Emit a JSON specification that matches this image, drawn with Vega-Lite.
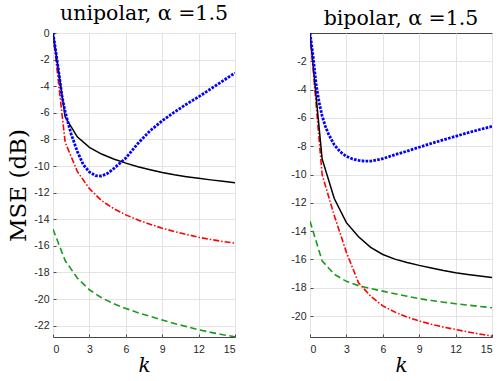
{
  "$schema": "https://vega.github.io/schema/vega-lite/v6.json",
  "autosize": {"type": "none"},
  "padding": {"left": 53, "top": 33, "right": 450, "bottom": 348},
  "background": "white",
  "config": {
    "view": {"stroke": "#444444", "strokeWidth": 1},
    "axis": {
      "grid": true, "gridColor": "#e3e3e3", "gridWidth": 1,
      "domain": false,
      "tickColor": "#262626", "tickSize": -3, "tickWidth": 0.8,
      "labelFont": "Liberation Sans", "labelFontSize": 10.5, "labelColor": "#262626",
      "titleFont": "DejaVu Serif", "titleColor": "black", "titleFontWeight": "normal"
    },
    "title": {"font": "DejaVu Serif", "fontSize": 20.5, "fontWeight": "normal", "color": "black", "offset": 4}
  },
  "datasets": {
    "d": [
      {"panel": "u", "series": "black", "k": 0, "v": 0},
      {"panel": "u", "series": "black", "k": 1, "v": -6.3},
      {"panel": "u", "series": "black", "k": 2, "v": -7.8},
      {"panel": "u", "series": "black", "k": 3, "v": -8.6},
      {"panel": "u", "series": "black", "k": 4, "v": -9.1},
      {"panel": "u", "series": "black", "k": 5, "v": -9.47},
      {"panel": "u", "series": "black", "k": 6, "v": -9.78},
      {"panel": "u", "series": "black", "k": 7, "v": -10.05},
      {"panel": "u", "series": "black", "k": 8, "v": -10.28},
      {"panel": "u", "series": "black", "k": 9, "v": -10.49},
      {"panel": "u", "series": "black", "k": 10, "v": -10.66},
      {"panel": "u", "series": "black", "k": 11, "v": -10.8},
      {"panel": "u", "series": "black", "k": 12, "v": -10.92},
      {"panel": "u", "series": "black", "k": 13, "v": -11.04},
      {"panel": "u", "series": "black", "k": 14, "v": -11.15},
      {"panel": "u", "series": "black", "k": 15, "v": -11.25},

      {"panel": "u", "series": "blue", "k": 0, "v": 0},
      {"panel": "u", "series": "blue", "k": 0.25, "v": -1.5},
      {"panel": "u", "series": "blue", "k": 0.5, "v": -3.1},
      {"panel": "u", "series": "blue", "k": 0.75, "v": -4.8},
      {"panel": "u", "series": "blue", "k": 1, "v": -5.9},
      {"panel": "u", "series": "blue", "k": 1.25, "v": -6.8},
      {"panel": "u", "series": "blue", "k": 1.5, "v": -7.6},
      {"panel": "u", "series": "blue", "k": 2, "v": -8.9},
      {"panel": "u", "series": "blue", "k": 2.5, "v": -9.9},
      {"panel": "u", "series": "blue", "k": 3, "v": -10.45},
      {"panel": "u", "series": "blue", "k": 3.5, "v": -10.72},
      {"panel": "u", "series": "blue", "k": 4, "v": -10.75},
      {"panel": "u", "series": "blue", "k": 4.5, "v": -10.55},
      {"panel": "u", "series": "blue", "k": 5, "v": -10.2},
      {"panel": "u", "series": "blue", "k": 5.5, "v": -9.8},
      {"panel": "u", "series": "blue", "k": 6, "v": -9.4},
      {"panel": "u", "series": "blue", "k": 7, "v": -8.3},
      {"panel": "u", "series": "blue", "k": 8, "v": -7.35},
      {"panel": "u", "series": "blue", "k": 9, "v": -6.6},
      {"panel": "u", "series": "blue", "k": 10, "v": -5.95},
      {"panel": "u", "series": "blue", "k": 11, "v": -5.35},
      {"panel": "u", "series": "blue", "k": 12, "v": -4.8},
      {"panel": "u", "series": "blue", "k": 13, "v": -4.2},
      {"panel": "u", "series": "blue", "k": 14, "v": -3.6},
      {"panel": "u", "series": "blue", "k": 15, "v": -3.0},

      {"panel": "u", "series": "red", "k": 0, "v": 0},
      {"panel": "u", "series": "red", "k": 1, "v": -8.2},
      {"panel": "u", "series": "red", "k": 2, "v": -10.4},
      {"panel": "u", "series": "red", "k": 3, "v": -11.7},
      {"panel": "u", "series": "red", "k": 4, "v": -12.6},
      {"panel": "u", "series": "red", "k": 5, "v": -13.2},
      {"panel": "u", "series": "red", "k": 6, "v": -13.67},
      {"panel": "u", "series": "red", "k": 7, "v": -14.05},
      {"panel": "u", "series": "red", "k": 8, "v": -14.38},
      {"panel": "u", "series": "red", "k": 9, "v": -14.67},
      {"panel": "u", "series": "red", "k": 10, "v": -14.92},
      {"panel": "u", "series": "red", "k": 11, "v": -15.14},
      {"panel": "u", "series": "red", "k": 12, "v": -15.35},
      {"panel": "u", "series": "red", "k": 13, "v": -15.52},
      {"panel": "u", "series": "red", "k": 14, "v": -15.67},
      {"panel": "u", "series": "red", "k": 15, "v": -15.8},

      {"panel": "u", "series": "green", "k": 0, "v": -14.75},
      {"panel": "u", "series": "green", "k": 1, "v": -17.1},
      {"panel": "u", "series": "green", "k": 2, "v": -18.42},
      {"panel": "u", "series": "green", "k": 3, "v": -19.3},
      {"panel": "u", "series": "green", "k": 4, "v": -19.9},
      {"panel": "u", "series": "green", "k": 5, "v": -20.35},
      {"panel": "u", "series": "green", "k": 6, "v": -20.7},
      {"panel": "u", "series": "green", "k": 7, "v": -21.02},
      {"panel": "u", "series": "green", "k": 8, "v": -21.3},
      {"panel": "u", "series": "green", "k": 9, "v": -21.57},
      {"panel": "u", "series": "green", "k": 10, "v": -21.83},
      {"panel": "u", "series": "green", "k": 11, "v": -22.07},
      {"panel": "u", "series": "green", "k": 12, "v": -22.3},
      {"panel": "u", "series": "green", "k": 13, "v": -22.5},
      {"panel": "u", "series": "green", "k": 14, "v": -22.68},
      {"panel": "u", "series": "green", "k": 15, "v": -22.83},

      {"panel": "b", "series": "black", "k": 0, "v": 0},
      {"panel": "b", "series": "black", "k": 1, "v": -8.9},
      {"panel": "b", "series": "black", "k": 2, "v": -11.7},
      {"panel": "b", "series": "black", "k": 3, "v": -13.4},
      {"panel": "b", "series": "black", "k": 4, "v": -14.4},
      {"panel": "b", "series": "black", "k": 5, "v": -15.15},
      {"panel": "b", "series": "black", "k": 6, "v": -15.65},
      {"panel": "b", "series": "black", "k": 7, "v": -15.98},
      {"panel": "b", "series": "black", "k": 8, "v": -16.22},
      {"panel": "b", "series": "black", "k": 9, "v": -16.42},
      {"panel": "b", "series": "black", "k": 10, "v": -16.6},
      {"panel": "b", "series": "black", "k": 11, "v": -16.78},
      {"panel": "b", "series": "black", "k": 12, "v": -16.94},
      {"panel": "b", "series": "black", "k": 13, "v": -17.06},
      {"panel": "b", "series": "black", "k": 14, "v": -17.17},
      {"panel": "b", "series": "black", "k": 15, "v": -17.27},

      {"panel": "b", "series": "blue", "k": 0, "v": 0},
      {"panel": "b", "series": "blue", "k": 0.25, "v": -1.6},
      {"panel": "b", "series": "blue", "k": 0.5, "v": -3.6},
      {"panel": "b", "series": "blue", "k": 0.75, "v": -4.9},
      {"panel": "b", "series": "blue", "k": 1, "v": -5.85},
      {"panel": "b", "series": "blue", "k": 1.25, "v": -6.55},
      {"panel": "b", "series": "blue", "k": 1.5, "v": -7.1},
      {"panel": "b", "series": "blue", "k": 2, "v": -7.9},
      {"panel": "b", "series": "blue", "k": 2.5, "v": -8.4},
      {"panel": "b", "series": "blue", "k": 3, "v": -8.72},
      {"panel": "b", "series": "blue", "k": 3.5, "v": -8.9},
      {"panel": "b", "series": "blue", "k": 4, "v": -9.0},
      {"panel": "b", "series": "blue", "k": 4.5, "v": -9.05},
      {"panel": "b", "series": "blue", "k": 5, "v": -9.05},
      {"panel": "b", "series": "blue", "k": 5.5, "v": -8.98},
      {"panel": "b", "series": "blue", "k": 6, "v": -8.88},
      {"panel": "b", "series": "blue", "k": 7, "v": -8.6},
      {"panel": "b", "series": "blue", "k": 8, "v": -8.35},
      {"panel": "b", "series": "blue", "k": 9, "v": -8.07},
      {"panel": "b", "series": "blue", "k": 10, "v": -7.8},
      {"panel": "b", "series": "blue", "k": 11, "v": -7.55},
      {"panel": "b", "series": "blue", "k": 12, "v": -7.3},
      {"panel": "b", "series": "blue", "k": 13, "v": -7.05},
      {"panel": "b", "series": "blue", "k": 14, "v": -6.82},
      {"panel": "b", "series": "blue", "k": 15, "v": -6.6},

      {"panel": "b", "series": "red", "k": 0, "v": 0},
      {"panel": "b", "series": "red", "k": 1, "v": -10.0},
      {"panel": "b", "series": "red", "k": 2, "v": -12.9},
      {"panel": "b", "series": "red", "k": 3, "v": -15.5},
      {"panel": "b", "series": "red", "k": 4, "v": -17.65},
      {"panel": "b", "series": "red", "k": 5, "v": -18.6},
      {"panel": "b", "series": "red", "k": 6, "v": -19.28},
      {"panel": "b", "series": "red", "k": 7, "v": -19.72},
      {"panel": "b", "series": "red", "k": 8, "v": -20.07},
      {"panel": "b", "series": "red", "k": 9, "v": -20.35},
      {"panel": "b", "series": "red", "k": 10, "v": -20.58},
      {"panel": "b", "series": "red", "k": 11, "v": -20.78},
      {"panel": "b", "series": "red", "k": 12, "v": -20.95},
      {"panel": "b", "series": "red", "k": 13, "v": -21.12},
      {"panel": "b", "series": "red", "k": 14, "v": -21.27},
      {"panel": "b", "series": "red", "k": 15, "v": -21.42},

      {"panel": "b", "series": "green", "k": 0, "v": -13.3},
      {"panel": "b", "series": "green", "k": 1, "v": -16.1},
      {"panel": "b", "series": "green", "k": 2, "v": -17.05},
      {"panel": "b", "series": "green", "k": 3, "v": -17.55},
      {"panel": "b", "series": "green", "k": 4, "v": -17.85},
      {"panel": "b", "series": "green", "k": 5, "v": -18.06},
      {"panel": "b", "series": "green", "k": 6, "v": -18.24},
      {"panel": "b", "series": "green", "k": 7, "v": -18.42},
      {"panel": "b", "series": "green", "k": 8, "v": -18.6},
      {"panel": "b", "series": "green", "k": 9, "v": -18.77},
      {"panel": "b", "series": "green", "k": 10, "v": -18.9},
      {"panel": "b", "series": "green", "k": 11, "v": -19.02},
      {"panel": "b", "series": "green", "k": 12, "v": -19.13},
      {"panel": "b", "series": "green", "k": 13, "v": -19.23},
      {"panel": "b", "series": "green", "k": 14, "v": -19.32},
      {"panel": "b", "series": "green", "k": 15, "v": -19.41}
    ]
  },
  "hconcat": [
    {
      "width": 182, "height": 304,
      "title": {"text": "unipolar, α =1.5"},
      "data": {"name": "d"},
      "transform": [{"filter": "datum.panel === 'u'"}],
      "encoding": {
        "x": {"field": "k", "type": "quantitative", "scale": {"domain": [0, 15], "nice": false},
              "axis": {"values": [0, 3, 6, 9, 12, 15], "title": "k", "titleFontStyle": "italic", "titleFontSize": 20, "labelPadding": 10, "titlePadding": 1}},
        "y": {"field": "v", "type": "quantitative", "scale": {"domain": [-22.85, 0], "nice": false, "zero": false},
              "axis": {"values": [0, -2, -4, -6, -8, -10, -12, -14, -16, -18, -20, -22], "labelExpr": "'' + datum.value", "title": "MSE (dB)", "titleFontSize": 23, "labelPadding": 7, "titlePadding": 3}}
      },
      "layer": [
        {"transform": [{"filter": "datum.series === 'green'"}], "mark": {"type": "line", "clip": true, "color": "#1a9a1a", "strokeWidth": 1.6, "strokeDash": [6.5, 3.5]}},
        {"transform": [{"filter": "datum.series === 'red'"}], "mark": {"type": "line", "clip": true, "color": "#ff0000", "strokeWidth": 1.6, "strokeDash": [6, 2, 1.5, 2]}},
        {"transform": [{"filter": "datum.series === 'black'"}], "mark": {"type": "line", "clip": true, "color": "#000000", "strokeWidth": 1.5}},
        {"transform": [{"filter": "datum.series === 'blue'"}], "mark": {"type": "line", "clip": true, "color": "#0000ff", "strokeWidth": 2.8, "strokeDash": [2.6, 1.3]}}
      ]
    },
    {
      "width": 182, "height": 304,
      "title": {"text": "bipolar, α =1.5"},
      "data": {"name": "d"},
      "transform": [{"filter": "datum.panel === 'b'"}],
      "encoding": {
        "x": {"field": "k", "type": "quantitative", "scale": {"domain": [0, 15], "nice": false},
              "axis": {"values": [0, 3, 6, 9, 12, 15], "title": "k", "titleFontStyle": "italic", "titleFontSize": 20, "labelPadding": 10, "titlePadding": 1}},
        "y": {"field": "v", "type": "quantitative", "scale": {"domain": [-21.48, 0], "nice": false, "zero": false},
              "axis": {"values": [-2, -4, -6, -8, -10, -12, -14, -16, -18, -20], "labelExpr": "'' + datum.value", "title": null, "labelPadding": 7}}
      },
      "layer": [
        {"transform": [{"filter": "datum.series === 'green'"}], "mark": {"type": "line", "clip": true, "color": "#1a9a1a", "strokeWidth": 1.6, "strokeDash": [6.5, 3.5]}},
        {"transform": [{"filter": "datum.series === 'red'"}], "mark": {"type": "line", "clip": true, "color": "#ff0000", "strokeWidth": 1.6, "strokeDash": [6, 2, 1.5, 2]}},
        {"transform": [{"filter": "datum.series === 'black'"}], "mark": {"type": "line", "clip": true, "color": "#000000", "strokeWidth": 1.5}},
        {"transform": [{"filter": "datum.series === 'blue'"}], "mark": {"type": "line", "clip": true, "color": "#0000ff", "strokeWidth": 2.8, "strokeDash": [2.6, 1.3]}}
      ]
    }
  ],
  "resolve": {"scale": {"x": "independent", "y": "independent"}},
  "bounds": "flush",
  "spacing": 75
}
